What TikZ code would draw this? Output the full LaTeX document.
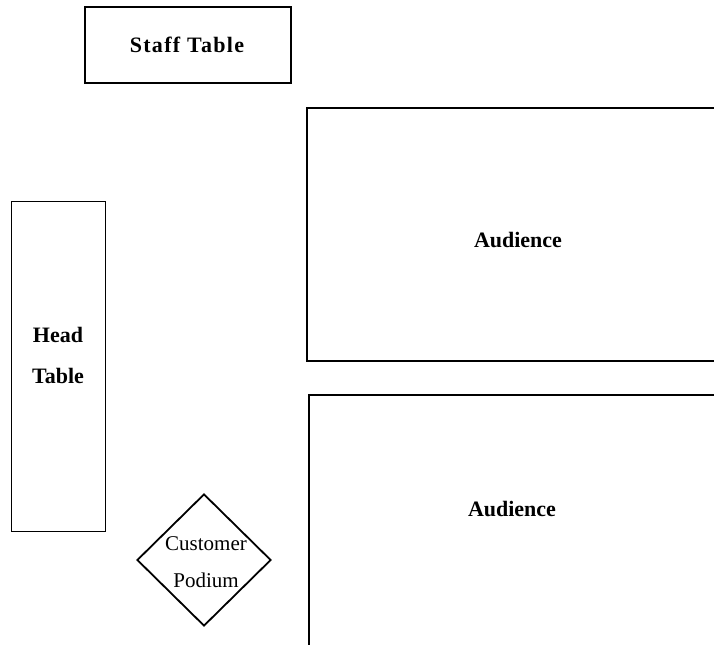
\documentclass[tikz,border=0pt]{standalone}
\usepackage{fontspec}
\setmainfont{Liberation Serif}
\usetikzlibrary{shapes.geometric}
\begin{document}
\begin{tikzpicture}[x=1pt,y=-1pt,
  outline/.style={draw=black,line width=1.8pt},
  tablebox/.style={outline,rectangle,inner sep=0pt},
  boldlabel/.style={font=\fontsize{22}{41}\selectfont\bfseries,align=center,inner sep=0pt},
  plainlabel/.style={font=\fontsize{21}{37}\selectfont,align=center,inner sep=0pt}]
\useasboundingbox (0,0) rectangle (714,645);
% Staff table
\node[tablebox,minimum width=206pt,minimum height=76pt] (staff) at (188,45) {};
\node[boldlabel] (stafftext) at (187,45) {\addfontfeature{LetterSpace=6}Staff Table};
% Head table
\node[tablebox,minimum width=94pt,minimum height=330pt] (head) at (58.5,366.5) {};
\node[boldlabel] (headtext) at (58,355) {Head\\Table};
% Customer podium
\node[outline,diamond,inner sep=0pt,minimum width=134pt,minimum height=132pt] (podium) at (204,560) {};
\node[plainlabel] (podiumtext) at (206,562) {Customer\\Podium};
% Audience areas (open to the right/bottom)
\coordinate (a1tr) at (714,108);
\coordinate (a1tl) at (307,108);
\coordinate (a1bl) at (307,361);
\coordinate (a1br) at (714,361);
\draw[outline] (a1tr) -- (a1tl) -- (a1bl) -- (a1br);
\node[boldlabel] (aud1) at (518,240) {Audience};
\coordinate (a2tr) at (714,395);
\coordinate (a2tl) at (309,395);
\coordinate (a2bl) at (309,645);
\draw[outline] (a2tr) -- (a2tl) -- (a2bl);
\node[boldlabel] (aud2) at (512,509) {Audience};
\end{tikzpicture}
\end{document}
